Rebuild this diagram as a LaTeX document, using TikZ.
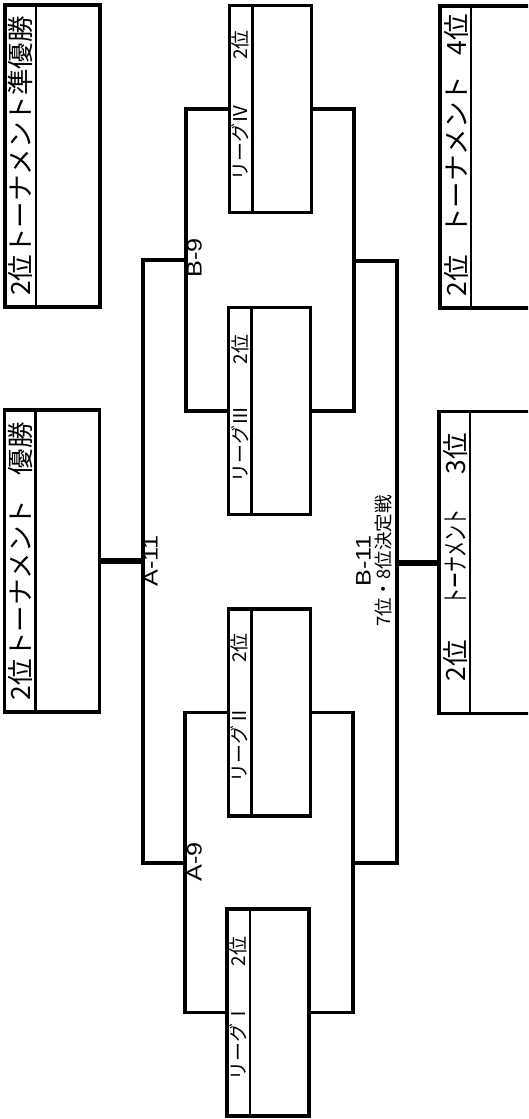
\documentclass[tikz,border=0pt]{standalone}
\usepackage{graphicx}
\usepackage{fontspec}
\setmainfont{Noto Sans CJK JP}
\newfontfamily\latinfont{Liberation Sans}

\begin{document}
\begin{tikzpicture}[x=1pt, y=-1pt,
    finalbox/.style={draw, line width=3.2pt, minimum width=95pt, minimum height=302pt, inner sep=0pt, outer sep=0pt},
    leaguebox/.style={draw, line width=3.2pt, minimum width=82pt, minimum height=207pt, inner sep=0pt, outer sep=0pt},
    divider/.style={line width=2.6pt},
    bracket/.style={line width=3.2pt},
    finallink/.style={line width=6pt},
    headtext/.style={rotate=90, inner sep=0pt, font=\fontsize{26.5}{30}\selectfont},
    leaguetext/.style={rotate=90, inner sep=0pt, font=\fontsize{19}{21}\selectfont},
    matchtext/.style={rotate=90, inner sep=0pt, font=\latinfont\fontsize{21}{24}\selectfont},
    notetext/.style={rotate=90, inner sep=0pt, font=\fontsize{18.5}{20}\selectfont}]

  \useasboundingbox (0,0) rectangle (528,1119);
  \clip (0,0) rectangle (528,1119);
  \fill[white] (0,0) rectangle (528,1119);

  % result boxes
  \node[finalbox] (res2) at (52.5,156) {};
  \node[finalbox] (win)  at (52,561) {};
  \node[finalbox] (res4) at (487.5,157) {};
  \node[finalbox] (res3) at (486.5,562.5) {};

  % league boxes
  \node[leaguebox] (lgIV)  at (270.5,109) {};
  \node[leaguebox] (lgIII) at (269.5,411) {};
  \node[leaguebox] (lgII)  at (269.5,712.5) {};
  \node[leaguebox] (lgI)   at (268,1012.5) {};

  \foreach \b in {res2,win,res4,res3}
    \draw[divider] ([xshift=31pt]\b.north west) -- ([xshift=31pt]\b.south west);
  \foreach \b in {lgIV,lgIII,lgII,lgI}
    \draw[divider] ([xshift=23pt]\b.north west) -- ([xshift=23pt]\b.south west);

  \node[headtext] (res2t) at (20.5,156) {2位トーナメント準優勝};
  \node[headtext] (wint)  at (20,561) {\makebox[278pt]{2位トーナメント\hfill 優勝}};
  \node[headtext] (res4t) at (456.5,155) {\makebox[282pt]{2位\hfill トーナメント\hfill 4位}};
  \node[headtext] (res3t) at (455.5,557) {\makebox[248pt]{2位\hfill\scalebox{0.6}[1]{トーナメント}\hfill 3位}};

  \node[leaguetext] (lgIVt)  at (240.5,105) {\makebox[150pt]{リーグⅣ\hfill 2位}};
  \node[leaguetext] (lgIIIt) at (240,408.5) {\makebox[148pt]{リーグⅢ\hfill 2位}};
  \node[leaguetext] (lgIIt)  at (239.5,707.5) {\makebox[149pt]{リーグⅡ\hfill 2位}};
  \node[leaguetext] (lgIt)   at (238,1008.5) {\makebox[144pt]{リーグⅠ\hfill 2位}};

  % bracket joints
  \coordinate (jB9)  at (186,260);
  \coordinate (jA9)  at (185,863);
  \coordinate (jA11) at (143,561);
  \coordinate (jRB)  at (354,261);
  \coordinate (jRA)  at (353,863);
  \coordinate (jB11) at (397,562.5);

  \draw[bracket] (lgIV.west) -| (jB9) |- (lgIII.west);
  \draw[bracket] (lgII.west) -| (jA9) |- (lgI.west);
  \draw[bracket] (jB9) -| (jA11) |- (jA9);
  \draw[bracket] (lgIV.east) -| (jRB) |- (lgIII.east);
  \draw[bracket] (lgII.east) -| (jRA) |- (lgI.east);
  \draw[bracket] (jRB) -| (jB11) |- (jRA);
  \draw[finallink] (jA11) -- (win.east);
  \draw[finallink] (jB11) -- (res3.west);

  \node[matchtext] (mB9)  at (194.5,258) {\scalebox{1.2}[1]{B-9}};
  \node[matchtext] (mA9)  at (194.5,862) {\scalebox{1.2}[1]{A-9}};
  \node[matchtext] (mA11) at (150.5,561) {\scalebox{1.2}[1]{A-11}};
  \node[matchtext] (mB11) at (363.5,561) {\scalebox{1.2}[1]{B-11}};
  \node[notetext]  (mB11n) at (383.5,561) {7位・8位決定戦};
\end{tikzpicture}
\end{document}
